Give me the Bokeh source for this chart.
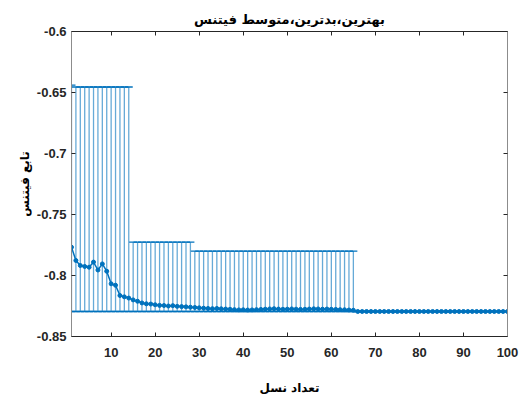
from bokeh.plotting import figure
from bokeh.models import (ColumnDataSource, Whisker, TeeHead, LinearAxis, FixedTicker,
                          CustomJSTickFormatter, Range1d)
from bokeh.embed import file_html
from bokeh.resources import INLINE

# ---- data ----
generations = list(range(1, 101))

mean_fitness = [
    -0.7768, -0.7877, -0.7918, -0.7926, -0.7932, -0.7890, -0.7955, -0.7905, -0.7965, -0.8068,
    -0.8080, -0.8164, -0.8175, -0.8185, -0.8200, -0.8211, -0.8225, -0.8232, -0.8234, -0.8240,
    -0.8245, -0.8246, -0.8250, -0.8247, -0.8253, -0.8255, -0.8257, -0.8260, -0.8262, -0.8265,
    -0.8268, -0.8270, -0.8272, -0.8270, -0.8273, -0.8275, -0.8277, -0.8280, -0.8282, -0.8281,
    -0.8283, -0.8282, -0.8280, -0.8278, -0.8276, -0.8274, -0.8272, -0.8275, -0.8277, -0.8276,
    -0.8274, -0.8276, -0.8278, -0.8277, -0.8275, -0.8273, -0.8274, -0.8276, -0.8275, -0.8277,
    -0.8278, -0.8280, -0.8281, -0.8283, -0.8285,
] + [-0.8295] * 35

best_fitness = [-0.8295] * 100

worst_fitness = ([-0.6440] + [-0.6455] * 13      # gens 1-14
                 + [-0.7727] * 14                # gens 15-28
                 + [-0.7800] * 37                # gens 29-65
                 + [-0.8295] * 35)               # gens 66-100

x_ticks = [10, 20, 30, 40, 50, 60, 70, 80, 90, 100]
y_ticks = [-0.85, -0.8, -0.75, -0.7, -0.65, -0.6]

title_text = "بهترین،بدترین،متوسط فیتنس"
x_label = "تعداد نسل"
y_label = "تابع فیتنس"

# ---- figure ----
BLUE = "#0072BD"
src = ColumnDataSource(dict(x=generations, mean=mean_fitness, best=best_fitness, worst=worst_fitness))

p = figure(width=521, height=409, x_range=Range1d(1, 100), y_range=Range1d(-0.85, -0.6),
           output_backend="svg", toolbar_location=None, title=title_text,
           min_border_left=71, min_border_right=14, min_border_top=31, min_border_bottom=73,
           background_fill_color="white", border_fill_color="white")
p.outline_line_color = None
p.grid.visible = False

p.title.align = "center"
p.title.text_font = "DejaVu Sans"
p.title.text_font_size = "13px"
p.title.text_font_style = "bold"
p.title.text_color = "#000000"

whisk = Whisker(base="x", lower="best", upper="worst", source=src, dimension="height",
                line_color=BLUE, line_alpha=0.6, line_width=1.3,
                upper_head=TeeHead(size=8, line_color=BLUE, line_width=1.3),
                lower_head=TeeHead(size=8, line_color=BLUE, line_width=1.3))
p.add_layout(whisk)

p.line("x", "mean", source=src, line_color=BLUE, line_width=1.5)
p.scatter("x", "mean", source=src, size=4, color=BLUE)

fmt = CustomJSTickFormatter(code="return parseFloat(tick.toFixed(2)).toString();")
blank = CustomJSTickFormatter(code="return '';")


def style_axis(ax, show_labels, color):
    ax.major_tick_in = 4
    ax.major_tick_out = 0
    ax.minor_tick_line_color = None
    ax.axis_line_color = color
    ax.major_tick_line_color = "#262626"
    ax.major_label_text_font = "Liberation Sans"
    ax.major_label_text_font_style = "bold"
    ax.major_label_text_font_size = "13px"
    ax.major_label_text_color = "#262626"
    if not show_labels:
        ax.formatter = blank
        ax.major_label_standoff = 0


xa = p.xaxis[0]
xa.ticker = FixedTicker(ticks=x_ticks)
style_axis(xa, True, "#262626")
xa.major_label_standoff = 11
xa.axis_label = x_label
xa.axis_label_standoff = 21
xa.axis_label_text_font = "DejaVu Sans"
xa.axis_label_text_font_style = "bold"
xa.axis_label_text_font_size = "12px"
xa.axis_label_text_color = "#000000"

ya = p.yaxis[0]
ya.ticker = FixedTicker(ticks=y_ticks)
ya.formatter = fmt
style_axis(ya, True, "#8c8c8c")
ya.major_label_standoff = 5
ya.axis_label = y_label
ya.axis_label_standoff = 2
ya.axis_label_text_font = "DejaVu Sans"
ya.axis_label_text_font_style = "bold"
ya.axis_label_text_font_size = "12px"
ya.axis_label_text_color = "#000000"

top = LinearAxis(ticker=FixedTicker(ticks=x_ticks))
style_axis(top, False, "#262626")
p.add_layout(top, "above")

right = LinearAxis(ticker=FixedTicker(ticks=y_ticks))
style_axis(right, False, "#8c8c8c")
p.add_layout(right, "right")

open("out.html", "w").write(file_html(p, INLINE))
